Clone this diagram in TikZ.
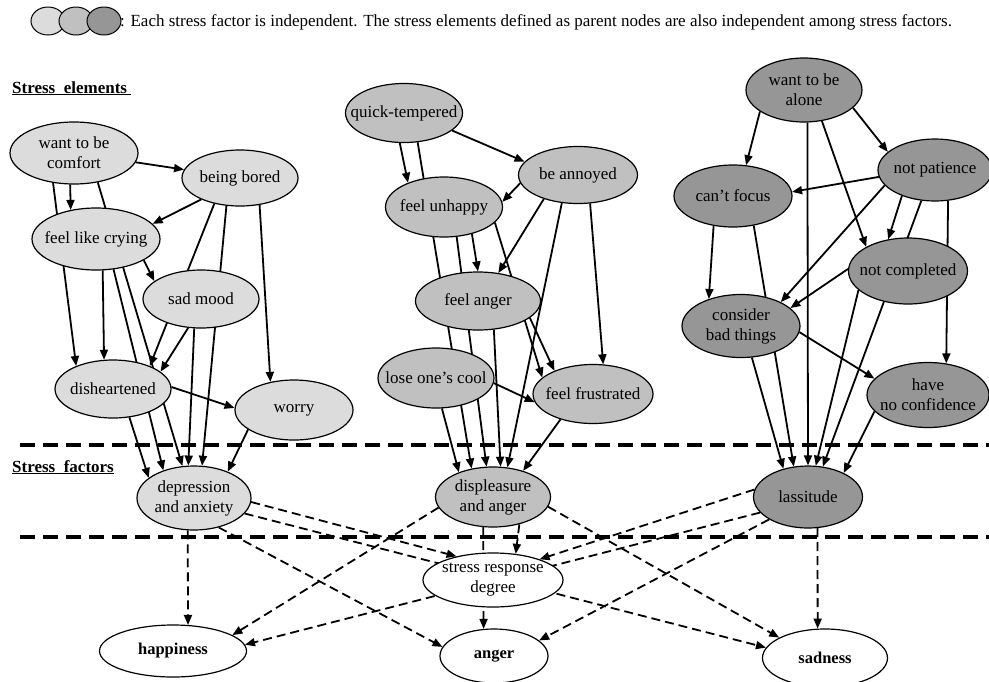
\documentclass[tikz,border=0pt]{standalone}
\usepackage{fontspec}
\setmainfont{Liberation Serif}
\usetikzlibrary{shapes.geometric,arrows.meta,backgrounds}
\definecolor{cA}{RGB}{220,220,220}
\definecolor{cB}{RGB}{192,192,192}
\definecolor{cC}{RGB}{150,150,150}
\begin{document}
\begin{tikzpicture}[x=1pt,y=-1pt,
  ell/.style={ellipse,draw,line width=1.2pt,inner sep=-40pt,align=center,
    font=\fontsize{17}{20}\selectfont},
  outn/.style={ell,fill=white,font=\bfseries\fontsize{16.5}{20}\selectfont},
  edge/.style={line width=1.8pt,-{Triangle[length=10pt,width=8pt]}},
  dedge/.style={edge,dash pattern=on 9pt off 5pt},
  sepline/.style={line width=3.3pt,dash pattern=on 15pt off 8pt},
  lab/.style={anchor=base west,inner sep=0pt,font=\bfseries\fontsize{17}{20}\selectfont}]
\useasboundingbox (0,0) rectangle (989,681);

% legend
\node[ell,fill=cA,line width=1pt,minimum width=34,minimum height=28] (leg1) at (48,21) {};
\node[ell,fill=cB,line width=1pt,minimum width=34,minimum height=28] (leg2) at (76,21) {};
\node[ell,fill=cC,line width=1pt,minimum width=34,minimum height=28] (leg3) at (104,21) {};
\node[anchor=west,inner sep=0pt,font=\fontsize{17}{20}\selectfont] (legtext) at (120,22)
  {: Each stress factor is independent. The stress elements defined as parent nodes are also independent among stress factors.};

% section labels
\node[lab] (lab1) at (12,93) {\underline{Stress\ \ elements\ }};
\node[lab] (lab2) at (12,472) {\underline{Stress\ \ factors}};

% left group
\node[ell,fill=cA,minimum width=128,minimum height=62] (comfort) at (74,153) {want to be\\comfort};
\node[ell,fill=cA,minimum width=116,minimum height=56] (bored) at (240,178) {being bored};
\node[ell,fill=cA,minimum width=128,minimum height=62] (crying) at (96,239) {feel like crying};
\node[ell,fill=cA,minimum width=116,minimum height=58] (sad) at (201,299) {sad mood};
\node[ell,fill=cA,minimum width=116,minimum height=58] (dish) at (113,389) {disheartened};
\node[ell,fill=cA,minimum width=118,minimum height=60] (worry) at (294,410) {worry};
\node[ell,fill=cA,minimum width=114,minimum height=64] (depr) at (194,498) {depression\\and anxiety};

% middle group
\node[ell,fill=cB,minimum width=117,minimum height=59] (quick) at (404,113) {quick-tempered};
\node[ell,fill=cB,minimum width=119,minimum height=57] (annoy) at (578,175) {be annoyed};
\node[ell,fill=cB,minimum width=117,minimum height=60] (unhappy) at (444,207) {feel unhappy};
\node[ell,fill=cB,minimum width=125,minimum height=58] (fanger) at (478,301) {feel anger};
\node[ell,fill=cB,minimum width=116,minimum height=60] (cool) at (436,378) {lose one’s cool};
\node[ell,fill=cB,minimum width=120,minimum height=59] (frus) at (593,394) {feel frustrated};
\node[ell,fill=cB,minimum width=115,minimum height=60] (displ) at (493,497) {displeasure\\and anger};

% right group
\node[ell,fill=cC,minimum width=116,minimum height=64] (alone) at (804,90) {want to be\\alone};
\node[ell,fill=cC,minimum width=114,minimum height=62] (patience) at (935,170) {not patience};
\node[ell,fill=cC,minimum width=118,minimum height=62] (focus) at (733,196) {can’t focus};
\node[ell,fill=cC,minimum width=119,minimum height=66] (compl) at (908,271) {not completed};
\node[ell,fill=cC,minimum width=118,minimum height=63] (consider) at (741,326) {consider\\bad things};
\node[ell,fill=cC,minimum width=122,minimum height=65] (noconf) at (928,395) {have\\no confidence};
\node[ell,fill=cC,minimum width=109,minimum height=62] (lass) at (808,497) {lassitude};

% outputs
\node[ell,fill=white,minimum width=140,minimum height=54] (srd) at (493,580) {stress response\\degree};
\node[outn,minimum width=147,minimum height=52] (hap) at (173,651) {happiness};
\node[outn,minimum width=108,minimum height=54] (angr) at (494,656) {anger};
\node[outn,minimum width=125,minimum height=58] (sadn) at (825,658) {sadness};

\begin{scope}[on background layer]
\draw[sepline] (20,445) -- (989,445);
\draw[sepline] (20,537) -- (989,537);
% left edges
\draw[edge] (comfort) -- (bored);
\draw[edge] (comfort.-97) -- (crying.131);
\draw[edge] (comfort.-125) -- (dish.148);
\draw[edge] (comfort.-51) -- (depr.110);
\draw[edge] (bored.-151) -- (crying.15);
\draw[edge] (bored.-135) -- (dish.32);
\draw[edge] (bored.-116) -- (depr.76);
\draw[edge] (bored.-54) -- (worry.130);
\draw[edge] (crying.-24) -- (sad.159);
\draw[edge] (crying.-78) -- (dish.107);
\draw[edge] (crying.-60) -- (depr.138);
\draw[edge] (sad.-114) -- (dish.20);
\draw[edge] (sad.-103) -- (depr.100);
\draw[edge] (dish.2) -- (worry.178);
\draw[edge] (dish.-60) -- (depr.156);
\draw[edge] (worry.-157) -- (depr.38);
% middle edges
\draw[edge] (quick.-20) -- (annoy.166);
\draw[edge] (quick.-98) -- (unhappy.146);
\draw[edge] (quick.-65) -- (displ.127);
\draw[edge] (annoy.-172) -- (unhappy.5);
\draw[edge] (annoy.-145) -- (fanger.54);
\draw[edge] (annoy.-120) -- (displ.64);
\draw[edge] (annoy.-67) -- (frus.71);
\draw[edge] (unhappy.-44) -- (fanger.90);
\draw[edge] (unhappy.-67) -- (displ.102);
\draw[edge] (unhappy.-17) -- (frus.162);
\draw[edge] (fanger.-61) -- (displ.76);
\draw[edge] (fanger.-18) -- (frus.149);
\draw[edge] (cool.-79) -- (displ.144);
\draw[edge] (cool.-5) -- (frus.188);
\draw[edge] (frus.-142) -- (displ.41);
% right edges
\draw[edge] (alone.-154) -- (focus.67);
\draw[edge] (alone.-84) -- (lass.90);
\draw[edge] (alone.-60) -- (compl.150);
\draw[edge] (alone.-20) -- (patience.159);
\draw[edge] (patience.-173) -- (focus.4);
\draw[edge] (patience.-163) -- (consider.31);
\draw[edge] (patience.-142) -- (compl.122);
\draw[edge] (patience.-114) -- (lass.64);
\draw[edge] (patience.-67) -- (noconf.60);
\draw[edge] (focus.-123) -- (consider.140);
\draw[edge] (focus.-55) -- (lass.115);
\draw[edge] (compl.178) -- (consider.20);
\draw[edge] (compl.-159) -- (lass.76);
\draw[edge] (consider.-6) -- (noconf.163);
\draw[edge] (consider.-71) -- (lass.131);
\draw[edge] (noconf.-163) -- (lass.34);
% stress factors -> outputs
\draw[dedge] (depr.-101) -- (hap.60);
\draw[dedge] (depr.-4) -- (srd.147);
\draw[dedge] (depr.-50) -- (angr.170);
\draw[dedge] (depr.-17) -- (sadn.170);
\draw[dedge] (displ.-169) -- (hap.15);
\draw[dedge] (displ.-46) -- (srd.49);
\draw[dedge] (displ.-108) -- (angr.111);
\draw[dedge] (displ.-10) -- (sadn.156);
\draw[dedge] (lass.-162) -- (hap.5);
\draw[dedge] (lass.172) -- (srd.24);
\draw[dedge] (lass.-150) -- (angr.19);
\draw[dedge] (lass.-73) -- (sadn.104);
\end{scope}
\end{tikzpicture}
\end{document}
